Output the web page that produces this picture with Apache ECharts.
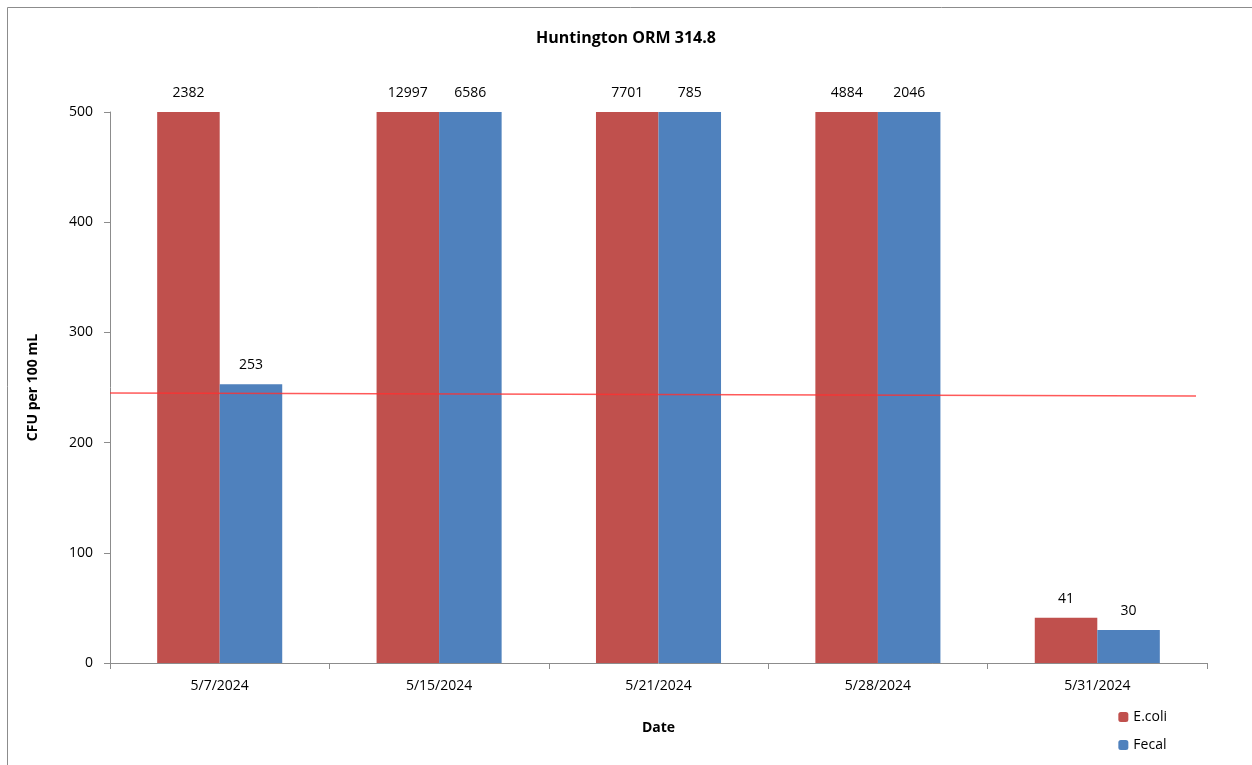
<!DOCTYPE html>
<html>
<head>
<meta charset="utf-8">
<script src="https://cdn.jsdelivr.net/npm/echarts@6/dist/echarts.min.js"></script>
<style>html,body{margin:0;padding:0;background:#fff}#c{width:1252px;height:765px}</style>
</head>
<body>
<div id="c"></div>
<script>
const categories = ['5/7/2024','5/15/2024','5/21/2024','5/28/2024','5/31/2024'];
const ecoli = [2382, 12997, 7701, 4884, 41];
const fecal = [253, 6586, 785, 2046, 30];
const limitLine = [[0, 245], [0.99, 242.3]];
const yTicks = [0, 100, 200, 300, 400, 500];
const AXIS_MAX = 500;

const FONT = '"Open Sans", "Liberation Sans", Arial, sans-serif';
const chart = echarts.init(document.getElementById('c'), null, {renderer: 'canvas'});

function capped(arr) {
  return arr.map(v => ({value: Math.min(v, AXIS_MAX), actual: v}));
}
const lbl = {
  show: true, position: 'top', distance: 12,
  color: '#000', fontFamily: FONT, fontSize: 14,
  formatter: p => String(p.data.actual)
};

chart.setOption({
  animation: false,
  backgroundColor: '#fff',
  graphic: [{
    type: 'rect', shape: {x: 7.5, y: 7.5, width: 1260, height: 770},
    style: {fill: 'none', stroke: '#8c8c8c', lineWidth: 1}, silent: true
  }],
  title: {
    text: 'Huntington ORM 314.8', left: 'center', top: 25,
    textStyle: {fontFamily: FONT, fontSize: 16, fontWeight: 'bold', color: '#000'}
  },
  legend: {
    orient: 'vertical', right: 80, bottom: 8, itemWidth: 10, itemHeight: 10, itemGap: 14,
    textStyle: {fontFamily: FONT, fontSize: 14, color: '#000'},
    data: ['E.coli', 'Fecal']
  },
  grid: {left: 110, right: 45, top: 112, bottom: 102, containLabel: false},
  xAxis: [{
    type: 'category', data: categories,
    name: 'Date', nameLocation: 'middle', nameGap: 58,
    nameTextStyle: {fontFamily: FONT, fontSize: 14, fontWeight: 'bold', color: '#000'},
    axisLine: {lineStyle: {color: '#8c8c8c'}},
    axisTick: {show: true, length: 6, alignWithLabel: false, lineStyle: {color: '#8c8c8c'}},
    axisLabel: {fontFamily: FONT, fontSize: 14, color: '#000', margin: 16}
  }, {
    type: 'value', min: 0, max: 1, show: false
  }],
  yAxis: {
    type: 'value', min: 0, max: AXIS_MAX, interval: 100,
    name: 'CFU per 100 mL', nameLocation: 'middle', nameGap: 70, nameRotate: 90,
    nameTextStyle: {fontFamily: FONT, fontSize: 14, fontWeight: 'bold', color: '#000'},
    axisLine: {show: true, lineStyle: {color: '#8c8c8c'}},
    axisTick: {show: true, length: 6, lineStyle: {color: '#8c8c8c'}},
    splitLine: {show: false},
    axisLabel: {fontFamily: FONT, fontSize: 14, color: '#000', margin: 17,
      formatter: v => yTicks.includes(v) ? String(v) : ''}
  },
  series: [{
    name: 'E.coli', type: 'bar', data: capped(ecoli), barGap: '0%', barCategoryGap: '43%',
    itemStyle: {color: '#C0504D'}, label: lbl
  }, {
    name: 'Fecal', type: 'bar', data: capped(fecal),
    itemStyle: {color: '#4F81BD'}, label: lbl
  }, {
    name: 'limit', type: 'line', xAxisIndex: 1, data: limitLine, symbol: 'none',
    clip: false, z: 5,
    lineStyle: {color: '#ff3030', width: 1.5, opacity: 0.8}
  }]
});
</script>
</body>
</html>
